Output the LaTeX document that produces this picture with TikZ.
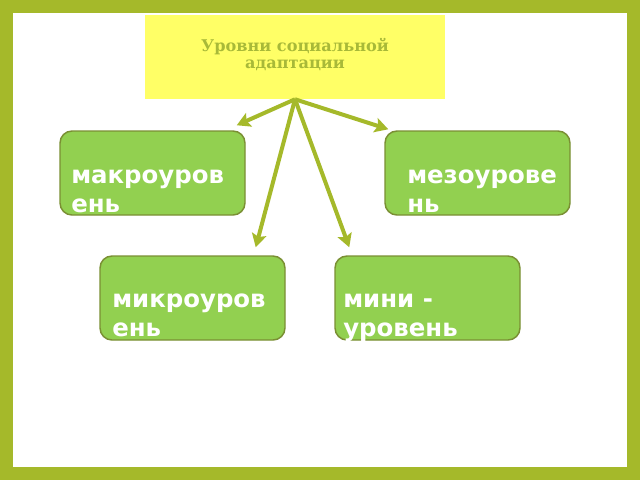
\documentclass[tikz,border=0pt]{standalone}
\usepackage{fontspec}
\setmainfont{DejaVu Serif}
\setsansfont{DejaVu Sans}
\usetikzlibrary{arrows.meta}
\definecolor{olive}{HTML}{A5B92A}
\definecolor{titlefill}{HTML}{FFFF66}
\definecolor{titletext}{HTML}{A8B938}
\definecolor{boxfill}{HTML}{92D050}
\definecolor{boxedge}{HTML}{7A8F33}
\tikzset{
  levelbox/.style={draw=boxedge, fill=boxfill, line width=1.1pt, rounded corners=9pt,
    minimum width=138.75pt, minimum height=63pt, inner sep=0pt},
  lbl/.style={text=white, font=\sffamily\bfseries\fontsize{18.3}{21.75}\selectfont,
    align=left, inner sep=0pt},
  link/.style={draw=olive, line width=3pt, -{Stealth[length=10pt,width=11pt,inset=2pt]}},
}
\begin{document}
\begin{tikzpicture}[x=0.75pt,y=-0.75pt]
\useasboundingbox (0,0) rectangle (640,480);
\fill[olive] (0,0) rectangle (640,480);
\fill[white] (13,13) rectangle (627,467);
\node[fill=titlefill, minimum width=225pt, minimum height=63pt, inner sep=0pt] (title) at (295,57) {};
\node[text=titletext, font=\bfseries\fontsize{12.1}{12.75}\selectfont, align=center, inner sep=0pt, anchor=base] (titlet) at (295,68) {Уровни социальной\\адаптации};
\node[levelbox] (macro) at (152.5,173) {};
\node[levelbox] (meso) at (477.5,173) {};
\node[levelbox] (micro) at (192.5,298) {};
\node[levelbox] (mini) at (427.5,298) {};
\node[lbl, anchor=base west] (macrot) at (71,212) {макроуров\\ень};
\node[lbl, anchor=base west] (mesot) at (407,212) {мезоурове\\нь};
\node[lbl, anchor=base west] (microt) at (112,336) {микроуров\\ень};
\node[lbl, anchor=base west] (minit) at (343,336) {мини -\\уровень};
\draw[link] (title.south) -- ([shift={(-9,-5)}]macro.north east);
\draw[link] (title.south) -- ([shift={(4,-1)}]meso.north west);
\draw[link] (title.south) -- ([shift={(-30,-8)}]micro.north east);
\draw[link] (title.south) -- ([shift={(15,-8)}]mini.north west);
\end{tikzpicture}
\end{document}
